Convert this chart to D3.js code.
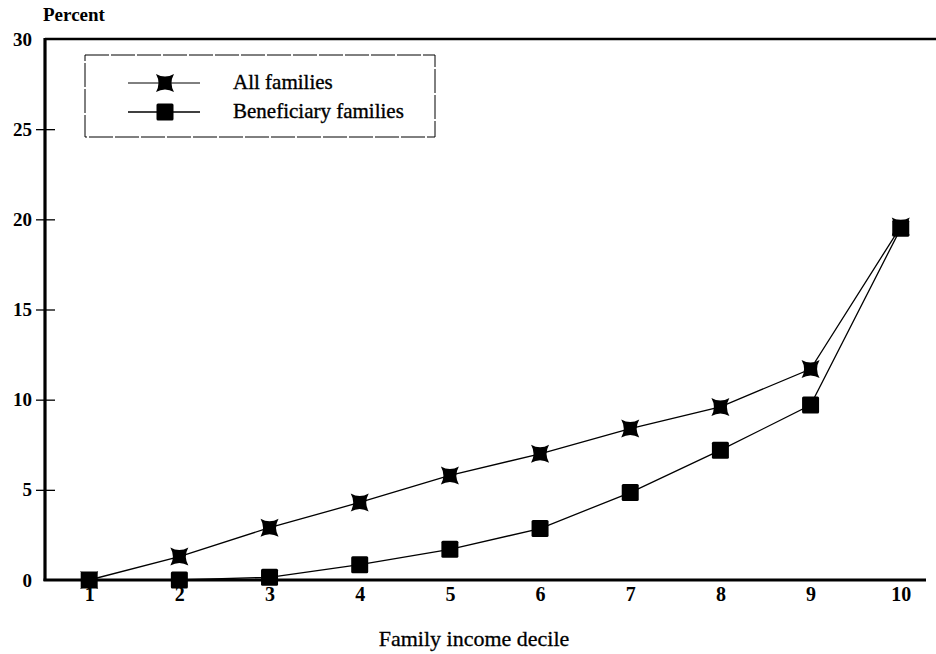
<!DOCTYPE html>
<html>
<head>
<meta charset="utf-8">
<script src="https://cdn.jsdelivr.net/npm/d3@7"></script>
<style>
  html, body { margin: 0; padding: 0; background: #fff; }
  svg { display: block; }
  text { font-family: "Liberation Serif", "DejaVu Serif", serif; fill: #000; }
</style>
</head>
<body>
<svg id="chart" width="936" height="654"></svg>
<script>
const deciles = [1, 2, 3, 4, 5, 6, 7, 8, 9, 10];
const allFamilies = [0, 1.3, 2.9, 4.3, 5.8, 7.0, 8.4, 9.6, 11.7, 19.6];
const beneficiaryFamilies = [0, 0, 0.15, 0.85, 1.7, 2.85, 4.85, 7.2, 9.7, 19.5];
const yTicks = [0, 5, 10, 15, 20, 25, 30];
const seriesNames = ["All families", "Beneficiary families"];
const yTitle = "Percent";
const xTitle = "Family income decile";

const svg = d3.select("#chart");
const x = d3.scaleLinear().domain([0.51, 10.28]).range([45, 926]);
const y = d3.scaleLinear().domain([0, 30]).range([580, 39]);

// top frame line
svg.append("line").attr("x1", 45).attr("x2", 936).attr("y1", y(30)).attr("y2", y(30))
  .attr("stroke", "#000").attr("stroke-width", 2.5);

// y axis
const yAxis = d3.axisLeft(y).tickValues(yTicks).tickSize(9).tickPadding(4);
const gy = svg.append("g").attr("transform", "translate(45,0)").call(yAxis);
gy.attr("font-family", "Liberation Serif");
gy.select(".domain").attr("stroke-width", 3.2).attr("d", `M0,${y(30) - 1}V${y(0) + 1}`);
gy.selectAll(".tick line").attr("x1", 10).attr("stroke-width", 1.3)
  .attr("display", d => (d === 0 || d === 30) ? "none" : null);
gy.selectAll(".tick text").attr("font-size", 19).attr("font-weight", "bold")
  .attr("font-family", "Liberation Serif");

// x axis
const xAxis = d3.axisBottom(x).tickValues(deciles).tickSize(0).tickPadding(7)
  .tickFormat(d3.format("d"));
const gx = svg.append("g").attr("transform", `translate(0,${y(0)})`).call(xAxis);
gx.attr("font-family", "Liberation Serif");
gx.select(".domain").attr("stroke-width", 3.2).attr("d", `M${x.range()[0] - 1.5},0H${x.range()[1]}`);
gx.selectAll(".tick text").attr("font-size", 20).attr("font-weight", "bold")
  .attr("font-family", "Liberation Serif");

// titles
svg.append("text").attr("x", 43).attr("y", 21).attr("font-size", 19).attr("font-weight", "bold").text(yTitle);
svg.append("text").attr("x", 474).attr("y", 646).attr("text-anchor", "middle")
  .attr("font-size", 22).attr("stroke", "#000").attr("stroke-width", 0.3).text(xTitle);

// lines
const line = d3.line().x((d, i) => x(deciles[i])).y(d => y(d));
svg.append("path").datum(beneficiaryFamilies).attr("d", line)
  .attr("fill", "none").attr("stroke", "#000").attr("stroke-width", 1.3);
svg.append("path").datum(allFamilies).attr("d", line)
  .attr("fill", "none").attr("stroke", "#000").attr("stroke-width", 1.3);

const starPath = "M-9,-9Q0,-4 9,-9Q4,0 9,9Q0,4 -9,9Q-4,0 -9,-9Z";
const sq = 17;

svg.append("g").selectAll("rect").data(beneficiaryFamilies).join("rect")
  .attr("x", (d, i) => x(deciles[i]) - sq / 2).attr("y", d => y(d) - sq / 2)
  .attr("width", sq).attr("height", sq).attr("rx", 1.5).attr("fill", "#000");
svg.append("g").selectAll("path").data(allFamilies).join("path")
  .attr("d", starPath)
  .attr("transform", (d, i) => `translate(${x(deciles[i])},${y(d)})`)
  .attr("fill", "#000");

// legend
svg.append("rect").attr("x", 85).attr("y", 55).attr("width", 350).attr("height", 82)
  .attr("fill", "none").attr("stroke", "#000").attr("stroke-width", 1).attr("stroke-dasharray", "24,2");
const legendRows = [83, 112];
svg.append("line").attr("x1", 128).attr("x2", 200).attr("y1", legendRows[0]).attr("y2", legendRows[0])
  .attr("stroke", "#000").attr("stroke-width", 1);
svg.append("path").attr("d", starPath).attr("transform", `translate(165,${legendRows[0]})`).attr("fill", "#000");
svg.append("line").attr("x1", 128).attr("x2", 200).attr("y1", legendRows[1]).attr("y2", legendRows[1])
  .attr("stroke", "#000").attr("stroke-width", 1.5);
svg.append("rect").attr("x", 165 - sq / 2).attr("y", legendRows[1] - sq / 2).attr("width", sq).attr("height", sq)
  .attr("rx", 1.5).attr("fill", "#000");
seriesNames.forEach((n, i) => {
  svg.append("text").attr("x", 233).attr("y", legendRows[i] + 6).attr("font-size", 21)
    .attr("stroke", "#000").attr("stroke-width", 0.35).text(n);
});
</script>
</body>
</html>
